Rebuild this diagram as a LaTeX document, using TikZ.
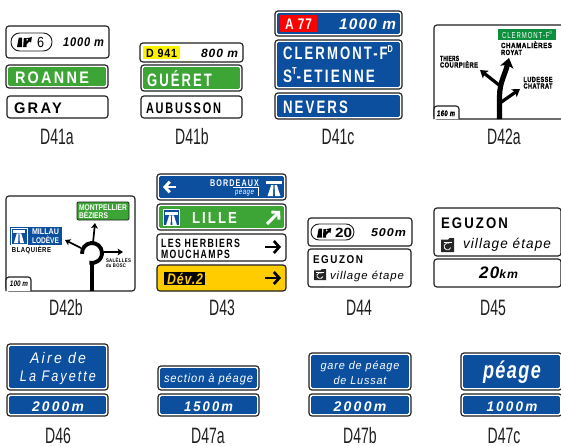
\documentclass[tikz,border=0pt]{standalone}
\usepackage{fontspec}
\usepackage{graphicx}
\usetikzlibrary{arrows.meta}
\setmainfont{Liberation Sans}
\newfontfamily\WD[LetterSpace=16]{Liberation Sans}
\newfontfamily\MD[LetterSpace=8]{Liberation Sans}
\newfontfamily\HV[LetterSpace=8,FakeBold=1.6]{Liberation Sans}
\newfontfamily\LB[FakeStretch=0.63]{Liberation Sans}
\definecolor{sblue}{HTML}{0B4F9E}
\definecolor{sgreen}{HTML}{3DA535}
\definecolor{dgreen}{HTML}{0E8F3E}
\definecolor{syellow}{HTML}{FFF200}
\definecolor{samber}{HTML}{FFCC00}
\definecolor{sred}{HTML}{FF0000}
\definecolor{sline}{HTML}{1E1E1E}
\newlength\pxu \setlength\pxu{0.75pt}
\tikzset{
  panelline/.style={draw=sline,line width=0.85pt,rounded corners=2.2pt},
  tl/.style={anchor=base west,inner sep=0pt,outer sep=0pt},
  tc/.style={anchor=base,inner sep=0pt,outer sep=0pt},
  tw/.style={text=white},
  road/.style={draw=black,line cap=butt},
  barrow/.style={draw=black,line width=2pt,-{Straight Barb[length=4pt,width=9pt,line width=2pt]}},
  warrow/.style={draw=white,line width=2.2pt,-{Straight Barb[length=3.6pt,width=8pt,line width=2.2pt]}},
  mainhead/.style={-{Stealth[length=7pt,width=10pt,inset=1.6pt]}},
  sidehead/.style={-{Stealth[length=5.5pt,width=7pt,inset=1.2pt]}},
  thinhead/.style={-{Stealth[length=4pt,width=5pt,inset=1pt]}},
  figlabel/.style={anchor=base,inner sep=0pt,font=\LB\fontsize{16.7}{17}\selectfont,text=sline},
}
\newcommand\TT[7]{\node[#1] (#2) at (#3,#4) {\fontsize{#5}{#5}\selectfont\resizebox{#6\pxu}{\height}{#7}};}
\newcommand\Pw[4]{\draw[panelline,fill=white] (#1,#2) rectangle (#3,#4);}
\newcommand\Pc[5]{\draw[panelline,fill=white] (#1,#2) rectangle (#3,#4);
  \fill[#5,rounded corners=1pt] (#1+2.2,#2+2.2) rectangle (#3-2.2,#4-2.2);}
\newcommand\Mot[6]{\begin{scope}[shift={(#1,#2)},xscale=#3,yscale=#4]
  \fill[#5] (0,0) rectangle (1,1);
  \fill[#6] (0.06,0.14) rectangle (0.94,0.3);
  \fill[#6] (0.34,0.36) -- (0.47,0.36) -- (0.44,1) -- (0.14,1) -- cycle;
  \fill[#6] (0.66,0.36) -- (0.53,0.36) -- (0.56,1) -- (0.86,1) -- cycle;
  \end{scope}}
\newcommand\Exi[3]{\begin{scope}[shift={(#1,#2)},scale=#3]
  \fill[black] (0,10) -- (1.6,1.5) -- (4.6,1.5) -- (4.6,10) -- cycle;
  \fill[black] (5.6,10) -- (6.2,2) -- (8.8,2) -- (8.8,4.6) -- (10.4,3.4) -- (9,2) -- (13.5,1) -- (12.8,6) -- (11.6,4.8) -- (8.8,7.4) -- (8.8,10) -- cycle;
  \end{scope}}
\newcommand\Vil[4]{\begin{scope}[shift={(#1,#2)},xscale=#3,yscale=#4]
  \fill[black!85] (0,0.12) -- (0.55,0.12) -- (0.65,0) -- (1,0) -- (1,1) -- (0,1) -- cycle;
  \draw[white,line width=0.55pt] (0.5,0.6) ++(20:0.26) arc[start angle=20,end angle=300,radius=0.26];
  \draw[white,line width=0.45pt] (0.2,0.32) -- (0.85,0.32);
  \end{scope}}
\begin{document}
\begin{tikzpicture}[x=0.75pt,y=-0.75pt]
\useasboundingbox (0,0) rectangle (561,446);
\fill[white] (0,0) rectangle (561,446);

% ---- D41a
\Pw{6}{26}{109}{58}
\draw[draw=sline,line width=0.7pt,rounded corners=6.5pt,fill=white] (11,33) rectangle (52,51);
\Exi{17}{36}{1.1}
\TT{tl}{a6}{37}{47}{11}{7}{6}
\TT{tl}{adist}{63}{46}{9.4}{41}{\MD\bfseries\itshape 1000 m}
\Pc{6}{65}{108}{88}{sgreen}
\TT{tl,tw}{aroanne}{15}{83}{12.5}{74}{\WD\bfseries ROANNE}
\Pw{7}{96}{108}{118}
\TT{tl}{agray}{14}{113}{11.5}{48}{\WD\bfseries GRAY}
\node[figlabel] (la) at (57,144) {D41a};

% ---- D41b
\Pw{140}{43}{243}{62}
\fill[syellow] (143,46) rectangle (180,59);
\TT{tl}{broad}{146}{57}{9}{31}{\MD\bfseries D 941}
\TT{tl}{bdist}{201}{57}{9}{37}{\MD\bfseries\itshape 800 m}
\Pc{141}{65}{242}{91}{sgreen}
\TT{tl,tw}{bgueret}{147}{86}{13.5}{65}{\WD\bfseries GUÉRET}
\Pw{141}{96}{242}{118}
\TT{tl}{baub}{146}{113}{11.5}{75}{\WD\bfseries AUBUSSON}
\node[figlabel] (lb) at (192,144) {D41b};

% ---- D41c
\Pc{275}{11}{402}{36}{sblue}
\fill[sred] (280,15) rectangle (317,32);
\TT{tl,tw}{croad}{285}{30}{11.5}{27}{\MD\bfseries A 77}
\TT{tl,tw}{cdist}{339}{29}{11.5}{57}{\MD\bfseries\itshape 1000 m}
\Pc{275}{40}{402}{89}{sblue}
\TT{tl,tw}{cclt}{283}{60}{13.5}{110}{\WD\bfseries CLERMONT-F\raisebox{0.42em}{\fontsize{7.5}{7.5}\selectfont D}}
\TT{tl,tw}{cste}{283}{82}{13.5}{92}{\WD\bfseries S\raisebox{0.42em}{\fontsize{7.5}{7.5}\selectfont T}-ETIENNE}
\Pc{275}{93}{402}{119}{sblue}
\TT{tl,tw}{cnev}{283}{113}{13.5}{65}{\WD\bfseries NEVERS}
\node[figlabel] (lc) at (338,144) {D41c};

% ---- D42a
\Pw{434}{25}{566}{119}
\fill[dgreen] (498,29) rectangle (556,40);
\TT{tl,tw}{dclt}{502}{38}{6.5}{50}{\WD CLERMONT-F\raisebox{0.42em}{\fontsize{3.5}{3.5}\selectfont D}}
\TT{tl}{dcha}{501}{48}{5.6}{51}{\HV\bfseries CHAMALIÈRES}
\TT{tl}{droy}{501}{55}{5.6}{21}{\HV\bfseries ROYAT}
\TT{tl}{dthi}{440}{61}{5.6}{19}{\HV\bfseries THIERS}
\TT{tl}{dcou}{440}{67.5}{5.6}{38}{\HV\bfseries COURPIÈRE}
\TT{tl}{dlud}{523.5}{82}{5.6}{29}{\HV\bfseries LUDESSE}
\TT{tl}{dcht}{523.5}{88.5}{5.6}{29}{\HV\bfseries CHATRAT}
\draw[road,line width=3.9pt,mainhead] (499.5,119) -- (499.5,97) .. controls (499.5,82) and (505,75) .. (509,58);
\draw[road,line width=2.4pt,sidehead] (499,85) -- (480,70);
\draw[road,line width=2.4pt,sidehead] (500,103) -- (520,89);
\draw[panelline,fill=white] (434,119) -- (434,106) -- (459,106) -- (459,119);
\TT{tl}{dtag}{437}{116}{6}{18}{\HV\bfseries\itshape 160 m}
\node[figlabel] (ld) at (504,144) {D42a};

% ---- D42b
\Pw{6}{196}{135}{291}
\draw[sline,line width=0.7pt,fill=sgreen,rounded corners=1pt] (77,202) rectangle (129,220);
\TT{tl,tw}{eMon}{79}{210}{6.2}{48}{\bfseries MONTPELLIER}
\TT{tl,tw}{eBez}{79}{218}{6.2}{29}{\bfseries BÉZIERS}
\fill[sblue] (10,227) rectangle (62,245);
\Mot{12}{228}{14}{15}{sblue}{white}
\draw[white,line width=0.5pt] (11.5,228) rectangle (27,244);
\TT{tl,tw}{eMil}{32}{234}{6.2}{27}{\bfseries MILLAU}
\TT{tl,tw}{eLod}{32}{243}{6.2}{27}{\bfseries LODÈVE}
\TT{tl}{eBla}{12}{252}{5.4}{39}{\MD\bfseries BLAQUIÈRE}
\TT{tl}{eSal}{106}{262}{3.9}{25}{\MD\bfseries SALÈLLES}
\TT{tl}{eBos}{106}{267}{3.9}{20}{\MD\bfseries du BOSC}
\draw[road,line width=2.9pt] (92,253) ++(175:10) arc[start angle=175,end angle=465,radius=10];
\draw[road,line width=2.9pt] (92,291) -- (92,262);
\draw[road,line width=1.3pt,thinhead] (93,243) -- (95,223);
\draw[road,line width=1.3pt,thinhead] (81,248) -- (65,240);
\draw[road,line width=1.3pt,thinhead] (104,252) -- (123,252);
\draw[panelline,fill=white] (6,291) -- (6,277) -- (31,277) -- (31,291);
\TT{tl}{etag}{10}{286}{6}{18}{\bfseries\itshape 100 m}
\node[figlabel] (le) at (66,315) {D42b};

% ---- D43
\Pc{157}{174}{286}{200}{sblue}
\coordinate (f1a) at (176,187);
\coordinate (f1b) at (163,187);
\draw[warrow] (f1a) -- (f1b);
\TT{tl,tw}{fBor}{210}{186}{7.3}{49}{\WD\bfseries BORDEAUX}
\draw[white,line width=0.5pt] (233,187.5) -- (258,187.5) -- (258,196);
\TT{tl,tw}{fPea}{235}{194}{6}{19}{\MD\itshape péage}
\Mot{265}{179}{18}{17}{sblue}{white}
\Pc{157}{204}{286}{230}{sgreen}
\fill[white] (163,209) rectangle (180,226);
\Mot{164}{210}{15}{15}{sblue}{white}
\TT{tl,tw}{fLil}{192}{223}{12}{45}{\WD\bfseries LILLE}
\coordinate (f2a) at (267,224);
\coordinate (f2b) at (280,211);
\draw[warrow] (f2a) -- (f2b);
\Pw{157}{234}{286}{261}
\TT{tl}{fLes}{161}{247}{9}{79}{\WD\bfseries LES HERBIERS}
\TT{tl}{fMou}{161}{258}{9}{69}{\WD\bfseries MOUCHAMPS}
\coordinate (f3a) at (265,247);
\coordinate (f3b) at (281,247);
\draw[barrow] (f3a) -- (f3b);
\draw[panelline,fill=samber] (157,265) rectangle (286,291);
\fill[black] (164,272) rectangle (205,285);
\node[tl,text=samber] (fDev) at (167,284) {\fontsize{11.5}{11.5}\selectfont\resizebox{36\pxu}{\height}{\MD\bfseries\itshape Dév.2}};
\coordinate (f4a) at (265,278);
\coordinate (f4b) at (281,278);
\draw[barrow] (f4a) -- (f4b);
\node[figlabel] (lf) at (222,315) {D43};

% ---- D44
\Pw{308}{218}{412}{246}
\draw[draw=sline,line width=0.7pt,rounded corners=6pt,fill=white] (311,224) rectangle (354,240);
\Exi{317}{227}{1.05}
\TT{tl}{g20}{335}{237}{10}{17}{\bfseries 20}
\TT{tl}{g500}{371}{236}{8.5}{35}{\MD\bfseries\itshape 500m}
\Pw{308}{249}{411}{287}
\TT{tl}{gEgu}{313}{263}{8.5}{50}{\WD\bfseries EGUZON}
\Vil{314}{269}{12}{11}
\TT{tl}{gVil}{330}{279}{8.5}{74}{\MD\itshape village étape}
\node[figlabel] (lg) at (359,315) {D44};

% ---- D45
\Pw{434}{208}{561}{256}
\TT{tl}{hEgu}{441}{228}{11.5}{67}{\WD\bfseries EGUZON}
\Vil{441}{238}{13}{14}
\TT{tl}{hVil}{463}{248}{10.5}{88}{\MD\itshape village étape}
\Pw{434}{259}{561}{287}
\node[tl] (hKm) at (479,278) {\resizebox{39\pxu}{\height}{\MD\bfseries\itshape\fontsize{12.5}{12.5}\selectfont 20\fontsize{9}{9}\selectfont km}};
\node[figlabel] (lh) at (493,315) {D45};

% ---- D46
\Pc{7}{344}{108}{390}{sblue}
\TT{tc,tw}{iAir}{58}{363}{11.5}{56}{\WD\itshape Aire de}
\TT{tc,tw}{iLaf}{58}{381}{11.5}{76}{\WD\itshape La Fayette}
\Pc{7}{394}{108}{416}{sblue}
\TT{tc,tw}{iDis}{58}{411}{10.5}{52}{\WD\bfseries\itshape 2000m}
\node[figlabel] (li) at (58,443) {D46};

% ---- D47a
\Pc{158}{366}{259}{390}{sblue}
\TT{tc,tw}{jSec}{208.5}{382}{9}{89}{\MD\itshape section à péage}
\Pc{158}{394}{259}{416}{sblue}
\TT{tc,tw}{jDis}{208.5}{411}{10.5}{49}{\WD\bfseries\itshape 1500m}
\node[figlabel] (lj) at (208,443) {D47a};

% ---- D47b
\Pc{309}{353}{411}{390}{sblue}
\TT{tc,tw}{kGar}{360}{369}{8.5}{79}{\MD\itshape gare de péage}
\TT{tc,tw}{kLus}{360}{384}{8.5}{53}{\MD\itshape de Lussat}
\Pc{309}{394}{411}{416}{sblue}
\TT{tc,tw}{kDis}{360}{411}{10.5}{53}{\WD\bfseries\itshape 2000m}
\node[figlabel] (lk) at (360,443) {D47b};

% ---- D47c
\Pc{461}{353}{562}{390}{sblue}
\TT{tc,tw}{mPea}{512}{378}{18}{58}{\MD\bfseries\itshape péage}
\Pc{461}{394}{562}{416}{sblue}
\TT{tc,tw}{mDis}{512}{411}{10.5}{51}{\WD\bfseries\itshape 1000m}
\node[figlabel] (lm) at (504,443) {D47c};
\end{tikzpicture}
\end{document}
